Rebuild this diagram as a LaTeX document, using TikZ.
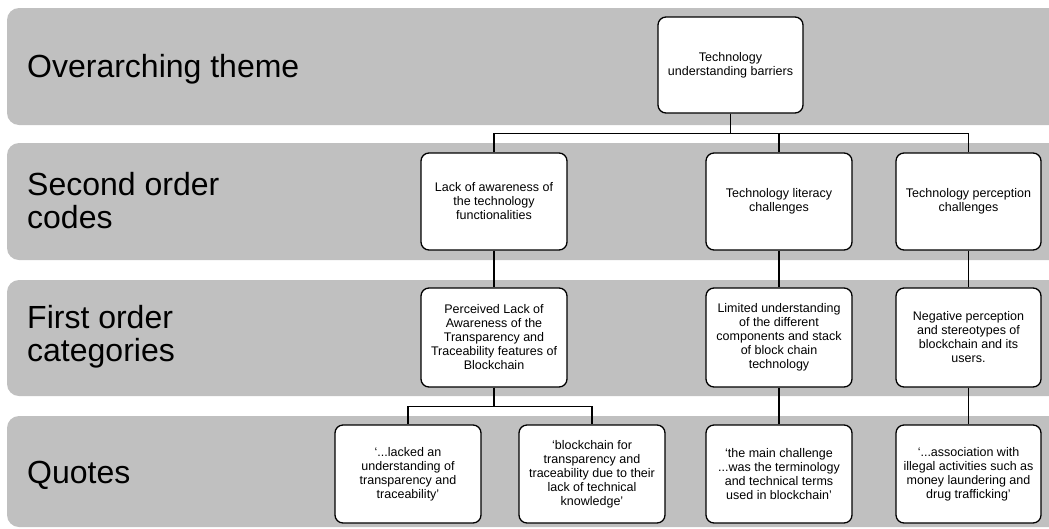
\documentclass[tikz,border=0pt]{standalone}
\usepackage{fontspec}
\setmainfont{Liberation Sans}
\usetikzlibrary{positioning,calc}
\definecolor{bandgray}{RGB}{192,192,192}

\begin{document}
\begin{tikzpicture}[
  x=1pt, y=-1pt,
  band/.style={fill=bandgray, rounded corners=12pt},
  lbl/.style={anchor=west, align=left, inner sep=0pt, font=\fontsize{32}{33}\selectfont},
  blk/.style={draw, fill=white, rounded corners=8pt, line width=1.3pt, align=center,
              font=\fontsize{12.5}{14}\selectfont, minimum width=146pt,
              minimum height=97pt, inner sep=2pt},
  link/.style={line width=1.2pt}
]
\clip (0,0) rectangle (1049,528);
% level bands
\path[band] (7,8) rectangle (1080,125);
\path[band] (7,143) rectangle (1080,260);
\path[band] (7,280) rectangle (1080,396);
\path[band] (7,416) rectangle (1080,527);
\node[lbl, anchor=base west] (lbltheme) at (27,77) {Overarching theme};
\node[lbl] (lblsecond) at (27,201) {Second order\\codes};
\node[lbl] (lblfirst) at (27,337) {First order\\categories};
\node[lbl, anchor=base west] (lblquotes) at (27,483) {Quotes};

% theme
\node[blk, minimum width=145pt, minimum height=96pt] (theme) at (730.5,65) {Technology\\understanding barriers};
% second order codes
\node[blk] (sec1) at (494,201.5) {Lack of awareness of\\the technology\\functionalities};
\node[blk] (sec2) at (779,201.5) {Technology literacy\\challenges};
\node[blk, minimum width=145pt] (sec3) at (968.5,201.5) {Technology perception\\challenges};
% first order categories
\node[blk, minimum height=99pt] (fst1) at (494,337.5) {Perceived Lack of\\Awareness of the\\Transparency and\\Traceability features of\\Blockchain};
\node[blk, minimum height=99pt] (fst2) at (779,337.5) {Limited understanding\\of the different\\components and stack\\of block chain\\technology};
\node[blk, minimum width=145pt, minimum height=99pt] (fst3) at (968.5,337.5) {Negative perception\\and stereotypes of\\blockchain and its\\users.};
% quotes
\node[blk, minimum height=98pt] (quo1) at (408,474) {`...lacked an\\understanding of\\transparency and\\traceability'};
\node[blk, minimum height=98pt] (quo2) at (592,474) {`blockchain for\\transparency and\\traceability due to their\\lack of technical\\knowledge'};
\node[blk, minimum height=98pt] (quo3) at (779,474) {`the main challenge\\...was the terminology\\and technical terms\\used in blockchain'};
\node[blk, minimum width=145pt, minimum height=98pt] (quo4) at (968.5,474) {`...association with\\illegal activities such as\\money laundering and\\drug trafficking'};

\draw[link] (theme.south) -- ++(0,19.5) -| (sec1.north);
\draw[link] (theme.south) -- ++(0,19.5) -| (sec2.north);
\draw[link] (theme.south) -- ++(0,19.5) -| (sec3.north);
\draw[link] (sec1) -- (fst1);
\draw[link] (sec2) -- (fst2);
\draw[link] (sec3) -- (fst3);
\draw[link] (fst1.south) -- ++(0,18.5) -| (quo1.north);
\draw[link] (fst1.south) -- ++(0,18.5) -| (quo2.north);
\draw[link] (fst2) -- (quo3);
\draw[link] (fst3) -- (quo4);
\end{tikzpicture}
\end{document}
